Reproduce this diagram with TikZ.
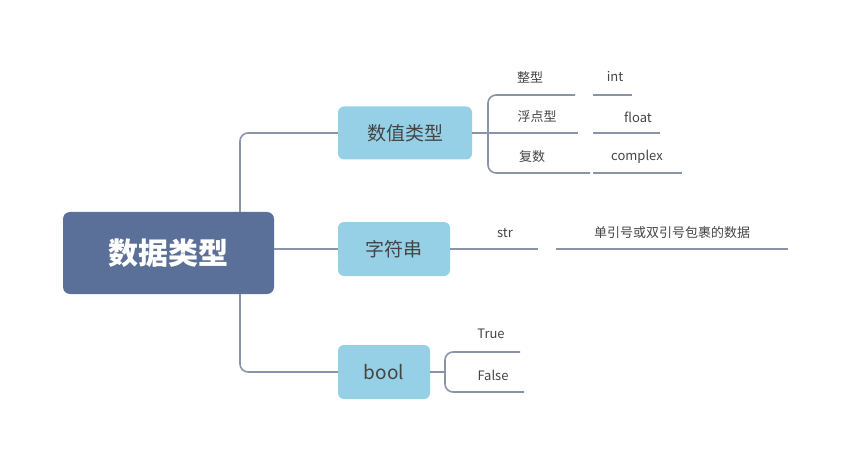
\documentclass[tikz,border=0pt]{standalone}
\usepackage{fontspec}
\setmainfont{Noto Sans CJK SC}
\definecolor{rootc}{HTML}{5A7098}
\definecolor{boxc}{HTML}{96D0E6}
\definecolor{linec}{HTML}{8A94A8}
\definecolor{txt}{HTML}{444444}
\begin{document}
\begin{tikzpicture}[x=1pt,y=-1pt,
  ln/.style={draw=linec,line width=1.6pt,rounded corners=8pt},
  mainbox/.style={fill=boxc,rounded corners=6pt,text=txt,font=\fontsize{19}{19}\selectfont,inner sep=0pt},
  leaf/.style={text=txt,font=\fontsize{13}{13}\selectfont,inner sep=0pt}]
\useasboundingbox (0,0) rectangle (850,462);
\node[fill=rootc,rounded corners=7pt,minimum width=211pt,minimum height=82pt,text=white,font=\bfseries\fontsize{30}{30}\selectfont] (root) at (168.5,253) {数据类型};
\node[mainbox,minimum width=134pt,minimum height=53pt] (n1) at (405,133) {数值类型};
\node[mainbox,minimum width=112pt,minimum height=54pt] (n2) at (394,249) {字符串};
\node[mainbox,minimum width=92pt,minimum height=54pt] (n3) at (384,372) {bool};
\coordinate (rt) at (240,212); \coordinate (rb) at (240,294);
\draw[ln] (rt) -- (240,133) -- (n1.west);
\draw[ln] (root.east |- 0,249) -- (n2.west |- 0,249);
\draw[ln] (rb) -- (240,372) -- (n3.west);
% numeric
\node[leaf] (a1) at (530,77) {整型};
\node[leaf] (a2) at (537,117) {浮点型};
\node[leaf] (a3) at (532,157) {复数};
\node[leaf] (b1) at (615,77) {int};
\node[leaf] (b2) at (638,117) {float};
\node[leaf] (b3) at (637,157) {complex};
\coordinate (j1) at (488,133);
\draw[ln] (n1.east) -- (j1);
\draw[ln] (575,95) -- (488,95) -- (488,173) -- (590,173);
\draw[ln] (j1) -- (578,133);
\draw[ln] (593,95) -- (632,95);
\draw[ln] (593,133) -- (660,133);
\draw[ln] (593,173) -- (682,173);
% string
\node[leaf] (s1) at (505,233) {str};
\node[leaf] (s2) at (672,233) {单引号或双引号包裹的数据};
\draw[ln] (n2.east |- 0,249) -- (538,249);
\draw[ln] (556,249) -- (788,249);
% bool
\node[leaf] (t1) at (491,334) {True};
\node[leaf] (t2) at (493,375) {False};
\draw[ln] (n3.east) -- (445,372);
\draw[ln] (520,352) -- (445,352) -- (445,392) -- (524,392);
\end{tikzpicture}
\end{document}
